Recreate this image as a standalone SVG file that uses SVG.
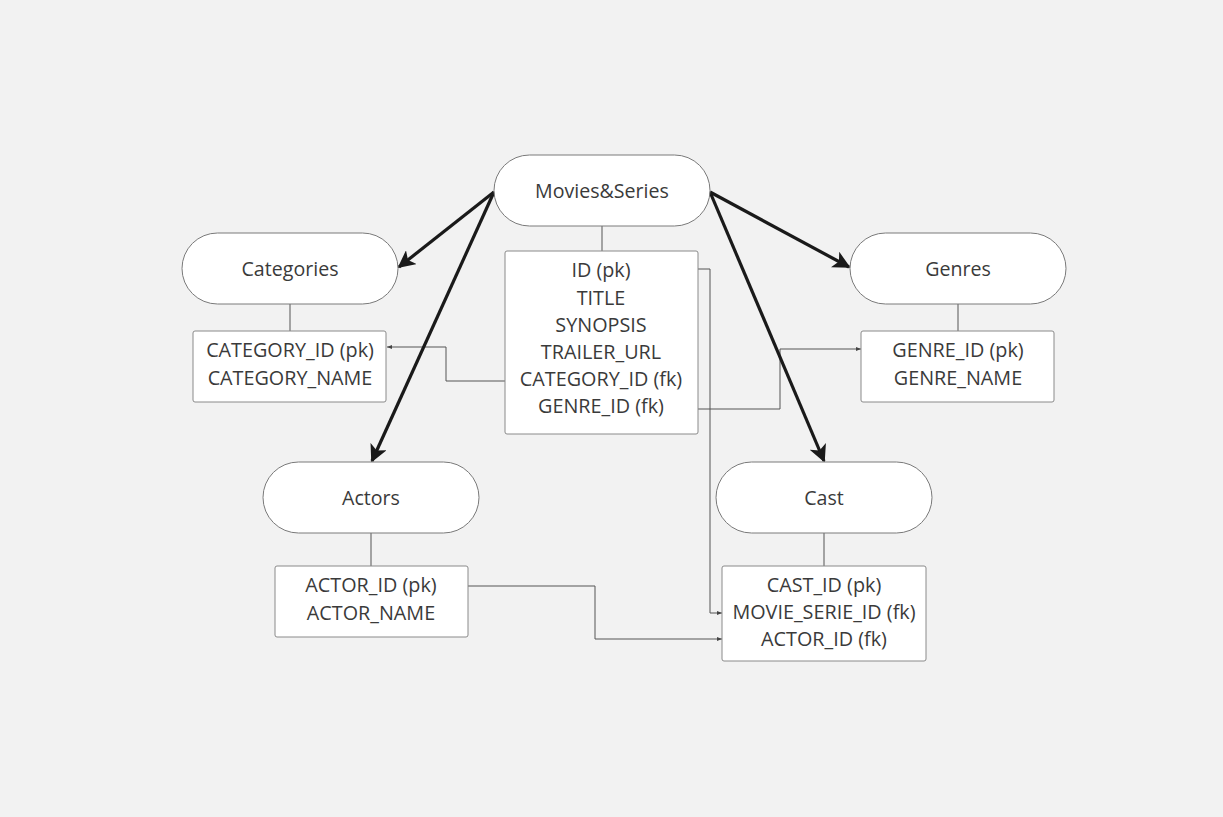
<svg xmlns="http://www.w3.org/2000/svg" width="1223" height="817" viewBox="0 0 1223 817">
<defs>
<style>
.pill{fill:#fff;stroke:#7a7a7a;stroke-width:1}
.tbl{fill:#fff;stroke:#8a8a8a;stroke-width:1}
.t{font-family:"Open Sans","Noto Sans",sans-serif;font-size:19.8px;fill:#3a3a3a;text-anchor:middle}
.p{font-size:19.6px}
.thick{stroke:#1a1a1a;stroke-width:3.2;fill:none;marker-end:url(#big)}
.thin{stroke:#555;stroke-width:1;fill:none}
.tha{stroke:#555;stroke-width:1;fill:none;marker-end:url(#small)}
</style>
<marker id="big" viewBox="0 0 10 10" refX="9" refY="5" markerWidth="5.5" markerHeight="5.5" orient="auto" markerUnits="strokeWidth">
<path d="M0,0 L10,5 L0,10 L2.5,5 z" fill="#1a1a1a"/>
</marker>
<marker id="small" viewBox="0 0 10 10" refX="10" refY="5" markerWidth="5" markerHeight="5" orient="auto" markerUnits="userSpaceOnUse">
<path d="M0,1 L10,5 L0,9 z" fill="#444"/>
</marker>
</defs>
<rect width="1223" height="817" fill="#f2f2f2"/>
<g id="connectors">
<line class="thin" x1="602" y1="226" x2="602" y2="251"/>
<line class="thin" x1="290" y1="304" x2="290" y2="331"/>
<line class="thin" x1="958" y1="304" x2="958" y2="331"/>
<line class="thin" x1="371" y1="533" x2="371" y2="566"/>
<line class="thin" x1="824" y1="533" x2="824" y2="566"/>
<path class="tha" d="M505,381 H446 V347 H387"/>
<path class="tha" d="M698,409 H780 V349 H861"/>
<path class="tha" d="M698,269 H710 V613 H722"/>
<path class="tha" d="M468,586 H595 V639 H722"/>
<line class="thick" x1="494" y1="192" x2="399" y2="267"/>
<line class="thick" x1="494" y1="192" x2="372" y2="461"/>
<line class="thick" x1="710" y1="192" x2="849" y2="267"/>
<line class="thick" x1="710" y1="192" x2="824" y2="461"/>
</g>
<g id="movies">
<rect class="pill" x="494" y="155" width="216" height="71" rx="35.5"/>
<text class="t p" x="602" y="197.5">Movies&amp;Series</text>
</g>
<g id="movies-table">
<rect class="tbl" x="505" y="251" width="193" height="183" rx="2"/>
<text class="t" x="601" y="277">ID (pk)</text>
<text class="t" x="601" y="305">TITLE</text>
<text class="t" x="601" y="332">SYNOPSIS</text>
<text class="t" x="601" y="359">TRAILER_URL</text>
<text class="t" x="601" y="386">CATEGORY_ID (fk)</text>
<text class="t" x="601" y="413">GENRE_ID (fk)</text>
</g>
<g id="categories">
<rect class="pill" x="182" y="233" width="216" height="71" rx="35.5"/>
<text class="t p" x="290" y="275.5">Categories</text>
</g>
<g id="categories-table">
<rect class="tbl" x="193" y="331" width="193" height="71" rx="2"/>
<text class="t" x="290" y="357">CATEGORY_ID (pk)</text>
<text class="t" x="290" y="385">CATEGORY_NAME</text>
</g>
<g id="genres">
<rect class="pill" x="850" y="233" width="216" height="71" rx="35.5"/>
<text class="t p" x="958" y="275.5">Genres</text>
</g>
<g id="genres-table">
<rect class="tbl" x="861" y="331" width="193" height="71" rx="2"/>
<text class="t" x="958" y="357">GENRE_ID (pk)</text>
<text class="t" x="958" y="385">GENRE_NAME</text>
</g>
<g id="actors">
<rect class="pill" x="263" y="462" width="216" height="71" rx="35.5"/>
<text class="t p" x="371" y="504.5">Actors</text>
</g>
<g id="actors-table">
<rect class="tbl" x="275" y="566" width="193" height="71" rx="2"/>
<text class="t" x="371" y="592">ACTOR_ID (pk)</text>
<text class="t" x="371" y="620">ACTOR_NAME</text>
</g>
<g id="cast">
<rect class="pill" x="716" y="462" width="216" height="71" rx="35.5"/>
<text class="t p" x="824" y="504.5">Cast</text>
</g>
<g id="cast-table">
<rect class="tbl" x="722" y="566" width="204" height="95" rx="2"/>
<text class="t" x="824" y="592">CAST_ID (pk)</text>
<text class="t" x="824" y="619">MOVIE_SERIE_ID (fk)</text>
<text class="t" x="824" y="646">ACTOR_ID (fk)</text>
</g>
</svg>
